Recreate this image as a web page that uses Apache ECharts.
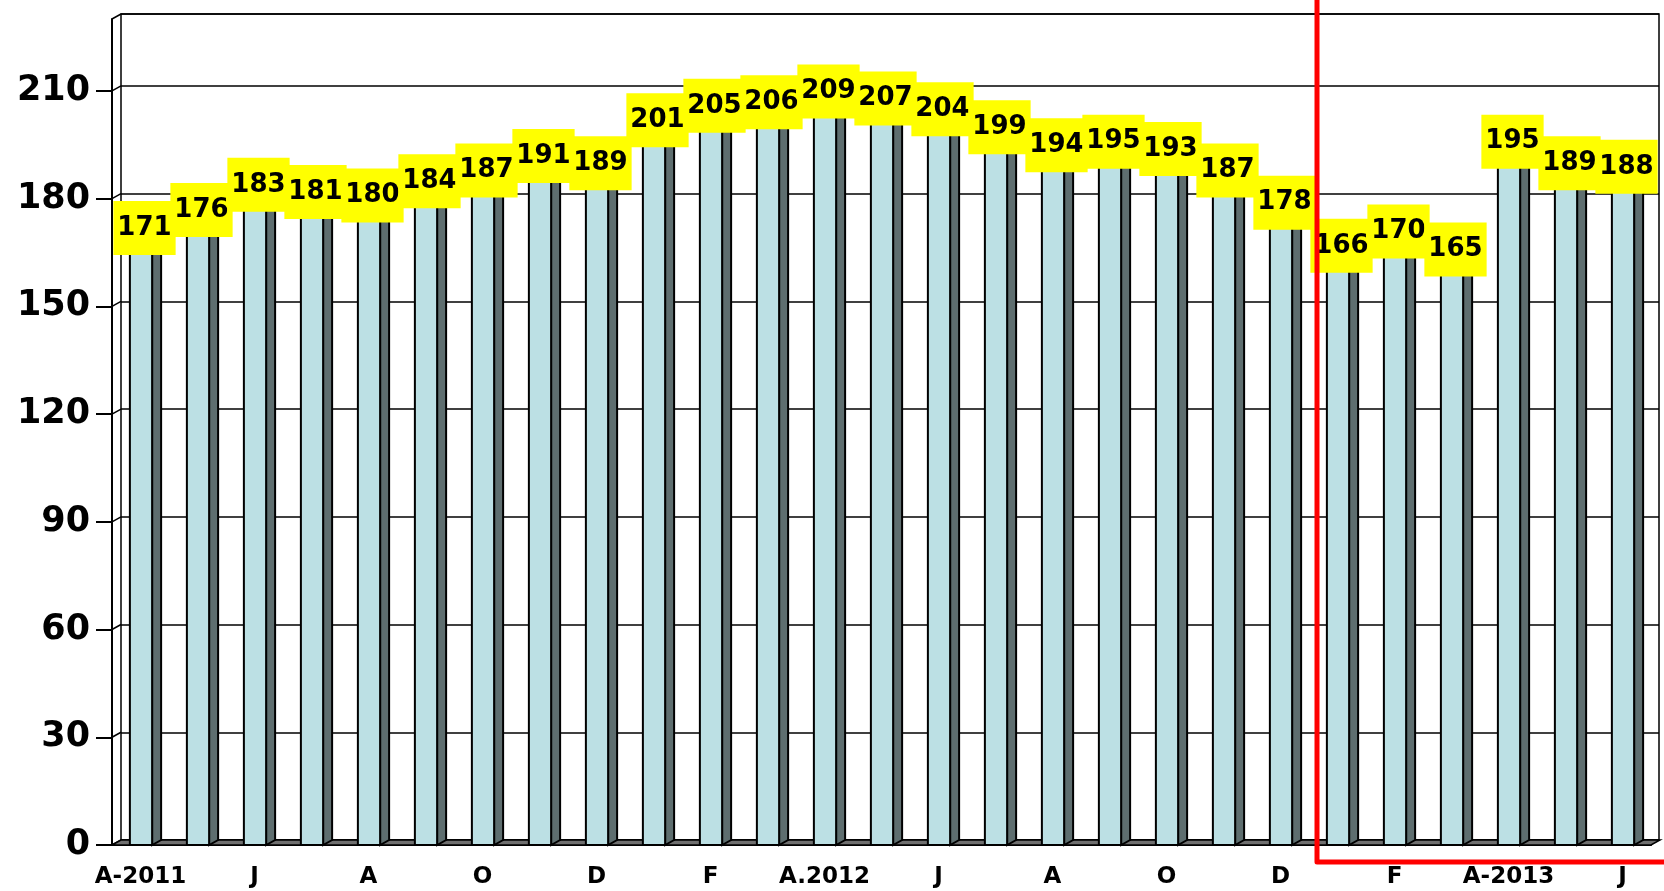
<!DOCTYPE html>
<html>
<head>
<meta charset="utf-8" />
<title>Chart</title>
<script src="https://cdn.jsdelivr.net/npm/echarts@6/dist/echarts.min.js"></script>
<style>
  html, body { margin: 0; padding: 0; background: #fff; }
  #chartmain { width: 1664px; height: 891px; }
</style>
</head>
<body>
<div id="chartmain"></div>
<script type="text/javascript">
  // month labels, only every other month is written on the axis
  var tickLabels = ['A-2011', '', 'J', '', 'A', '', 'O', '', 'D', '', 'F', '',
                    'A.2012', '', 'J', '', 'A', '', 'O', '', 'D', '', 'F', '',
                    'A-2013', '', 'J'];
  var values = [171, 176, 183, 181, 180, 184, 187, 191, 189, 201, 205, 206, 209,
                207, 204, 199, 194, 195, 193, 187, 178, 166, 170, 165, 195, 189, 188];
  var yTicks = [0, 30, 60, 90, 120, 150, 180, 210];
  var wallLevels = [0, 30, 60, 90, 120, 150, 180, 210, 230];
  var highlightFrom = 21;   // first month inside the red frame (Jan 2013)

  var DX = 9, DY = -5;      // depth of the fake 3D

  var myChart = echarts.init(document.getElementById('chartmain'));

  function renderBar(params, api) {
    var top = api.coord([api.value(0), api.value(1)]);
    var base = api.coord([api.value(0), 0]);
    var bw = api.size([1, 0])[0];
    var w = bw * 0.39;
    var x0 = top[0] - w / 2 + 0.5;
    var x1 = x0 + w;
    var edge = { stroke: '#000', lineWidth: 2 };
    return {
      type: 'group',
      children: [
        {
          type: 'polygon',
          shape: { points: [[x1, top[1]], [x1 + DX, top[1] + DY], [x1 + DX, base[1] + DY], [x1, base[1]]] },
          style: Object.assign({ fill: '#5e6e6f' }, edge)
        },
        {
          type: 'polygon',
          shape: { points: [[x0, top[1]], [x0 + DX, top[1] + DY], [x1 + DX, top[1] + DY], [x1, top[1]]] },
          style: Object.assign({ fill: '#9fc4c8' }, edge)
        },
        {
          type: 'rect',
          shape: { x: x0, y: top[1], width: w, height: base[1] - top[1] },
          style: Object.assign({ fill: '#bce0e4' }, edge)
        }
      ]
    };
  }

  // left wall diagonals and the floor plate
  function renderWall(params, api) {
    var cs = params.coordSys;
    var v = api.value(0);
    var y = api.coord([0, v])[1];
    var children = [{
      type: 'line',
      shape: { x1: cs.x, y1: y, x2: cs.x + DX, y2: y + DY },
      style: { stroke: '#000', lineWidth: 1.5 }
    }];
    if (v === 0) {
      children.push({
        type: 'polygon',
        shape: { points: [[cs.x, y], [cs.x + DX, y + DY], [cs.x + cs.width + DX, y + DY], [cs.x + cs.width, y]] },
        style: { fill: '#6f6f6f', stroke: '#000', lineWidth: 1.5 }
      });
    }
    return { type: 'group', children: children };
  }

  var option = {
    backgroundColor: '#fff',
    animation: false,
    grid: [
      { left: 112, right: 13, top: 19, bottom: 46 },
      { left: 121, right: 5, top: 14, bottom: 51, show: true, borderColor: '#000', borderWidth: 1.5, backgroundColor: 'transparent' }
    ],
    xAxis: [
      {
        gridIndex: 0,
        type: 'category',
        data: tickLabels,
        axisLine: { lineStyle: { color: '#000', width: 2 } },
        axisTick: { length: 13, interval: 0, lineStyle: { color: '#000', width: 2 } },
        axisLabel: {
          interval: 0, margin: 21, color: '#000',
          fontFamily: 'DejaVu Sans', fontWeight: 'bold', fontSize: 23
        },
        splitLine: { show: false }
      },
      { gridIndex: 1, type: 'category', data: tickLabels, show: false }
    ],
    yAxis: [
      {
        gridIndex: 0,
        type: 'value', min: 0, max: 230, interval: 30,
        axisLine: { show: true, lineStyle: { color: '#000', width: 2 } },
        axisTick: { show: true, length: 16, customValues: yTicks, lineStyle: { color: '#000', width: 2 } },
        axisLabel: {
          customValues: yTicks, margin: 22, color: '#000',
          fontFamily: 'DejaVu Sans', fontWeight: 'bold', fontSize: 35
        },
        splitLine: { show: false }
      },
      {
        gridIndex: 1,
        type: 'value', min: 0, max: 230, interval: 30,
        axisLine: { show: false },
        axisTick: { show: false },
        axisLabel: { show: false },
        splitLine: { show: true, lineStyle: { color: '#000', width: 1.5 } }
      }
    ],
    series: [
      {
        type: 'custom',
        xAxisIndex: 0, yAxisIndex: 0,
        renderItem: renderWall,
        data: wallLevels.map(function (v) { return [v]; }),
        z: 1,
        silent: true
      },
      {
        type: 'custom',
        xAxisIndex: 0, yAxisIndex: 0,
        renderItem: renderBar,
        data: values.map(function (v, i) { return [i, v]; }),
        z: 3
      },
      {
        type: 'scatter',
        xAxisIndex: 0, yAxisIndex: 0,
        symbolSize: 0,
        itemStyle: { opacity: 1 },
        data: values.map(function (v, i) { return [i, v]; }),
        z: 5,
        label: {
          show: true,
          position: 'inside',
          offset: [4, -3],
          formatter: function (p) { return p.value[1]; },
          color: '#000',
          fontFamily: 'DejaVu Sans',
          fontWeight: 'bold',
          fontSize: 26,
          lineHeight: 26,
          backgroundColor: '#ffff00',
          padding: [14, 4]
        }
      }
    ]
  };
  myChart.setOption(option);

  // red frame round the 2013 months
  var c0 = myChart.convertToPixel({ xAxisIndex: 0 }, highlightFrom);
  var c1 = myChart.convertToPixel({ xAxisIndex: 0 }, highlightFrom + 1);
  var xFrame = c0 - (c1 - c0) / 2 + 8;
  var yFrame = myChart.convertToPixel({ yAxisIndex: 0 }, 0) + 17;
  myChart.setOption({
    graphic: [{
      type: 'polyline',
      z: 100,
      shape: { points: [[xFrame, -10], [xFrame, yFrame], [1680, yFrame]] },
      style: { stroke: '#ff0000', lineWidth: 5, fill: null, lineJoin: 'round' }
    }]
  });
</script>
</body>
</html>
